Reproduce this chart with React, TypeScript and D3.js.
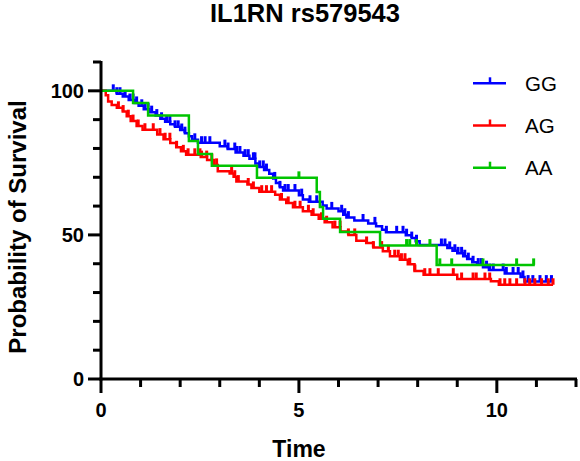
import React from "react";
import * as d3 from "d3";

const title = "IL1RN rs579543";
const xLabel = "Time";
const yLabel = "Probability of Survival";
const groups = ["GG", "AG", "AA"];
const colors = ["#0000ff", "#ff0000", "#00c400"];

const xMajorTicks = [0, 5, 10];
const xMinorTicks = [1, 2, 3, 4, 6, 7, 8, 9, 11, 12];
const yMajorTicks = [0, 50, 100];
const yMinorTicks = [10, 20, 30, 40, 60, 70, 80, 90, 110];

// GG: event times and survival after each event
const ggTimes = [0.40, 0.55, 0.70, 0.85, 0.95, 1.08, 1.22, 1.38, 1.50, 1.62, 1.75, 1.87, 2.00, 2.12, 2.22, 2.30, 2.45, 3.00, 3.20, 3.40, 3.60, 3.75, 3.90, 4.00, 4.12, 4.25, 4.35, 4.42, 4.52, 4.60, 5.00, 5.10, 5.25, 5.60, 5.70, 6.00, 6.12, 6.20, 6.40, 6.75, 6.95, 7.10, 7.20, 7.70, 7.85, 7.95, 8.05, 8.75, 8.88, 9.00, 9.15, 9.25, 9.38, 9.50, 9.65, 9.80, 10.20, 10.60, 10.70];
const ggSurv = [99.0, 98.0, 96.8, 95.8, 94.8, 93.6, 92.6, 91.4, 90.3, 89.3, 88.4, 87.5, 86.4, 85.3, 84.2, 83.0, 82.0, 80.8, 79.8, 78.6, 77.5, 76.4, 74.8, 73.6, 72.5, 71.2, 69.6, 68.0, 66.5, 65.4, 63.8, 62.3, 61.5, 60.2, 59.2, 58.2, 57.0, 56.0, 55.0, 54.0, 53.0, 51.8, 50.9, 49.9, 48.9, 47.8, 46.5, 45.5, 44.5, 43.6, 42.6, 41.6, 40.5, 39.7, 38.8, 37.8, 36.6, 35.4, 33.8];
const ggEnd = 11.39;
const ggCensor = [0.31, 0.40, 0.48, 0.61, 0.73, 0.81, 0.90, 1.03, 1.11, 1.19, 1.28, 1.41, 1.53, 1.66, 1.74, 1.87, 1.95, 2.04, 2.12, 2.37, 2.54, 2.63, 2.75, 3.13, 3.21, 3.38, 3.43, 3.51, 3.64, 3.72, 3.85, 3.89, 4.01, 4.10, 4.18, 4.39, 4.52, 4.65, 4.73, 4.90, 5.07, 5.28, 5.45, 5.83, 6.08, 6.16, 6.25, 6.62, 6.92, 7.21, 7.47, 7.63, 7.72, 7.85, 7.97, 8.60, 8.69, 8.81, 8.94, 9.02, 9.11, 9.19, 9.28, 9.40, 9.53, 9.61, 9.74, 9.82, 9.91, 10.16, 10.24, 10.41, 10.54, 10.66, 10.79, 10.91, 11.09, 11.25, 11.38];

// AG
const agTimes = [0.12, 0.18, 0.27, 0.40, 0.55, 0.65, 0.75, 0.90, 1.05, 1.42, 1.58, 1.75, 1.90, 2.02, 2.15, 2.52, 2.68, 2.85, 2.95, 3.25, 3.35, 3.42, 3.70, 3.80, 4.00, 4.40, 4.52, 4.68, 4.85, 5.10, 5.32, 5.50, 5.65, 5.85, 6.05, 6.25, 6.45, 6.70, 6.88, 7.12, 7.30, 7.55, 7.75, 7.92, 8.15, 9.00, 9.85, 10.05];
const agSurv = [98.5, 96.3, 95.1, 94.1, 92.8, 91.2, 89.5, 87.8, 86.5, 84.8, 83.2, 81.9, 80.4, 79.0, 77.8, 77.0, 76.0, 74.3, 72.1, 71.3, 70.2, 68.5, 67.5, 66.3, 65.0, 63.9, 62.3, 61.1, 59.6, 58.2, 57.0, 55.6, 54.4, 52.7, 51.2, 50.0, 48.0, 47.2, 45.6, 44.3, 42.6, 41.4, 39.8, 37.5, 36.2, 34.7, 33.9, 32.7];
const agEnd = 11.42;
const agCensor = [0.44, 0.56, 0.69, 0.81, 0.94, 1.11, 1.32, 1.49, 1.62, 1.74, 1.91, 2.08, 2.20, 2.37, 2.50, 2.54, 2.67, 2.80, 2.92, 3.30, 3.38, 3.47, 3.72, 3.85, 4.06, 4.18, 4.31, 4.56, 4.73, 4.90, 5.03, 5.24, 5.36, 5.57, 5.70, 5.91, 6.04, 6.25, 6.41, 6.71, 6.88, 7.09, 7.26, 7.42, 7.51, 7.59, 7.68, 7.80, 7.93, 8.18, 8.31, 8.52, 8.90, 9.11, 9.40, 9.48, 9.70, 9.82, 10.08, 10.20, 10.33, 10.50, 10.71, 10.83, 10.96, 11.13, 11.30, 11.42];

// AA
const aaTimes = [0.81, 1.19, 2.22, 2.45, 2.80, 3.94, 5.45, 5.53, 5.61, 6.04, 7.05, 8.48];
const aaSurv = [95.8, 91.4, 82.6, 78.1, 74.0, 69.8, 64.9, 59.7, 55.6, 51.0, 46.3, 39.6];
const aaEnd = 10.96;
const aaCensor = [5.0, 7.72, 7.80, 7.97, 8.31, 8.56, 8.86, 9.65, 10.50, 10.93];

const series = [
  { times: ggTimes, surv: ggSurv, end: ggEnd, censor: ggCensor },
  { times: agTimes, surv: agSurv, end: agEnd, censor: agCensor },
  { times: aaTimes, surv: aaSurv, end: aaEnd, censor: aaCensor },
];

const W = 580;
const H = 461;
const x0 = 101;
const yBase = 379;
const x = d3.scaleLinear().domain([0, 12]).range([x0, 576]);
const y = d3.scaleLinear().domain([0, 110]).range([yBase, 62]);

const FONT = "'Liberation Sans', Arial, Helvetica, sans-serif";

function survAt(times: number[], surv: number[], t: number) {
  let s = 100;
  for (let i = 0; i < times.length; i++) {
    if (times[i] <= t) s = surv[i];
  }
  return s;
}

export default function App() {
  const line = d3
    .line<[number, number]>()
    .x((d) => x(d[0]))
    .y((d) => y(d[1]))
    .curve(d3.curveStepAfter);

  return (
    <svg
      width={W}
      height={H}
      style={{ position: "absolute", left: 0, top: 0, background: "#fff" }}
      fontFamily={FONT}
    >
      <text x={305} y={21.5} textAnchor="middle" fontSize={25.5} fontWeight="bold">
        {title}
      </text>

      {/* curves */}
      {series.map((s, i) => {
        const pts: [number, number][] = [[0, 100]];
        s.times.forEach((t, k) => pts.push([t, s.surv[k]]));
        pts.push([s.end, s.surv[s.surv.length - 1]]);
        return (
          <g key={i}>
            <path d={line(pts) || ""} fill="none" stroke={colors[i]} strokeWidth={2.5} />
            {s.censor.map((t, k) => {
              const sv = survAt(s.times, s.surv, t);
              return (
                <line
                  key={k}
                  x1={x(t)}
                  x2={x(t)}
                  y1={y(sv)}
                  y2={y(sv) - 6.5}
                  stroke={colors[i]}
                  strokeWidth={3}
                />
              );
            })}
          </g>
        );
      })}

      {/* axes */}
      <g stroke="#000" strokeWidth={3}>
        <line x1={x0} x2={x0} y1={y(110) - 1} y2={yBase + 1.5} />
        <line x1={x0 - 1.5} x2={x(12) + 1} y1={yBase} y2={yBase} />
        {yMajorTicks.map((v) => (
          <line key={"ym" + v} x1={x0 - 13} x2={x0} y1={y(v)} y2={y(v)} />
        ))}
        {yMinorTicks.map((v) => (
          <line key={"yn" + v} x1={x0 - 8} x2={x0} y1={y(v)} y2={y(v)} />
        ))}
        {xMajorTicks.map((v) => (
          <line key={"xm" + v} x1={x(v)} x2={x(v)} y1={yBase} y2={yBase + 14} />
        ))}
        {xMinorTicks.map((v) => (
          <line key={"xn" + v} x1={x(v)} x2={x(v)} y1={yBase} y2={yBase + 8} />
        ))}
      </g>
      {yMajorTicks.map((v) => (
        <text
          key={"yl" + v}
          x={84}
          y={y(v)}
          textAnchor="end"
          dominantBaseline="central"
          fontSize={20}
          fontWeight="bold"
        >
          {v}
        </text>
      ))}
      {xMajorTicks.map((v) => (
        <text key={"xl" + v} x={x(v)} y={417} textAnchor="middle" fontSize={20} fontWeight="bold">
          {v}
        </text>
      ))}
      <text x={299} y={457} textAnchor="middle" fontSize={23} fontWeight="bold">
        {xLabel}
      </text>
      <text
        transform={`translate(26, 227) rotate(-90)`}
        textAnchor="middle"
        fontSize={24}
        fontWeight="bold"
      >
        {yLabel}
      </text>

      {/* legend */}
      {groups.map((g, i) => {
        const ly = 83.3 + i * 42.2;
        return (
          <g key={g}>
            <line x1={473} x2={506} y1={ly} y2={ly} stroke={colors[i]} strokeWidth={2.5} />
            <line x1={490} x2={490} y1={ly} y2={ly - 6} stroke={colors[i]} strokeWidth={2.5} />
            <text x={525} y={ly} dominantBaseline="central" fontSize={20.5}>
              {g}
            </text>
          </g>
        );
      })}
    </svg>
  );
}
